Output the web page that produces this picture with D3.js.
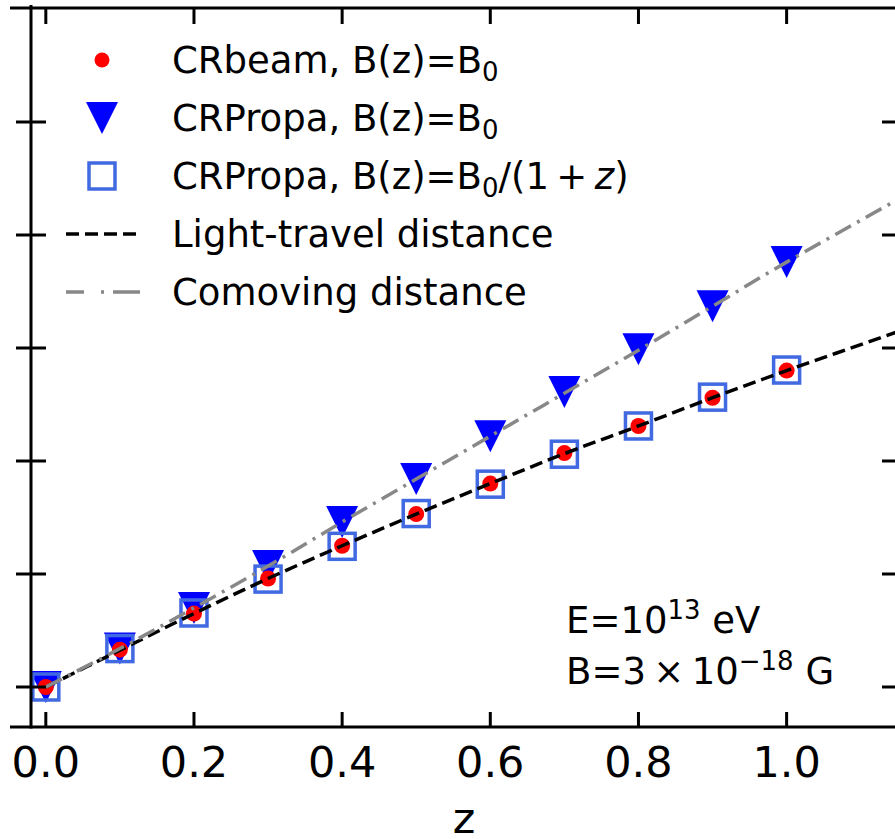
<!DOCTYPE html>
<html>
<head>
<meta charset="utf-8">
<script src="https://cdn.jsdelivr.net/npm/d3@7"></script>
<style>
  body { margin: 0; background: #fff; }
  text { font-family: "DejaVu Sans", sans-serif; fill: #000; }
</style>
</head>
<body>
<div id="chart"></div>
<script>
// values (y in tick units, tick spacing = 1)
var z_pts = [0.0, 0.1, 0.2, 0.3, 0.4, 0.5, 0.6, 0.7, 0.8, 0.9, 1.0]
var crbeam = [0.0, 0.33, 0.65, 0.96, 1.25, 1.53, 1.80, 2.07, 2.31, 2.56, 2.80]
var crpropa_b0 = [0.0, 0.34, 0.70, 1.07, 1.46, 1.84, 2.22, 2.61, 2.99, 3.37, 3.76]
var crpropa_b1z = [0.0, 0.34, 0.655, 0.955, 1.245, 1.535, 1.795, 2.06, 2.31, 2.565, 2.805]

var z_line = [0.0, 0.1, 0.2, 0.3, 0.4, 0.5, 0.6, 0.7, 0.8, 0.9, 1.0, 1.1, 1.2]
var light_travel = [0.0, 0.325, 0.65, 0.96, 1.25, 1.53, 1.80, 2.065, 2.31, 2.56, 2.80, 3.03, 3.26]
var comoving = [0.0, 0.34, 0.70, 1.07, 1.46, 1.84, 2.22, 2.60, 2.98, 3.37, 3.76, 4.13, 4.50]

var x_ticks = [0.0, 0.2, 0.4, 0.6, 0.8, 1.0]
var y_ticks = [0, 1, 2, 3, 4, 5]

var W = 895, H = 839
// plot box edges (not named top/left: those clash with window globals)
var px0 = 31, px1 = 897, py0 = 9, py1 = 727

var svg = d3.select("#chart")
  .append("svg")
  .attr("width", W)
  .attr("height", H)

var x = d3.scaleLinear()
    .domain([-0.02, 1.149])
    .range([px0, px1])
var y = d3.scaleLinear()
    .domain([-0.354, 6.0])
    .range([py1, py0])

svg.append("clipPath").attr("id", "plotclip")
  .append("rect")
  .attr("x", px0).attr("y", py0)
  .attr("width", px1 - px0).attr("height", py1 - py0)

var plot = svg.append("g").attr("clip-path", "url(#plotclip)")

function tri(cx, cy, s){
    return "M" + (cx - s) + "," + (cy - s) + "L" + (cx + s) + "," + (cy - s) + "L" + cx + "," + (cy + s) + "Z"
}

// triangles
plot.selectAll("path.tri")
    .data(z_pts)
    .enter()
    .append("path")
    .attr("class", "tri")
    .attr("d", function(d, i){ return tri(x(d), y(crpropa_b0[i]), 16) })
    .attr("fill", "#0000ff")

// squares
plot.selectAll("rect.sq")
    .data(z_pts)
    .enter()
    .append("rect")
    .attr("class", "sq")
    .attr("x", function(d){ return x(d) - 13 })
    .attr("y", function(d, i){ return y(crpropa_b1z[i]) - 13 })
    .attr("width", 26)
    .attr("height", 26)
    .attr("fill", "none")
    .attr("stroke", "#4169e1")
    .attr("stroke-width", 3.5)

// circles
plot.selectAll("circle.cr")
    .data(z_pts)
    .enter()
    .append("circle")
    .attr("class", "cr")
    .attr("cx", function(d){ return x(d) })
    .attr("cy", function(d, i){ return y(crbeam[i]) })
    .attr("r", 8)
    .attr("fill", "#ff0000")

var line = d3.line()
    .x(function(d){ return x(d[0]) })
    .y(function(d){ return y(d[1]) })
    .curve(d3.curveMonotoneX)

plot.append("path")
    .attr("d", line(z_line.map(function(d, i){ return [d, light_travel[i]] })))
    .attr("fill", "none")
    .attr("stroke", "#000")
    .attr("stroke-width", 3.5)
    .attr("stroke-dasharray", "13,6")

plot.append("path")
    .attr("d", line(z_line.map(function(d, i){ return [d, comoving[i]] })))
    .attr("fill", "none")
    .attr("stroke", "#888")
    .attr("stroke-width", 3.5)
    .attr("stroke-dasharray", "18,7,3,7")

// frame
var frame = svg.append("g").attr("stroke", "#000").attr("stroke-width", 3)
frame.append("line").attr("x1", 10).attr("x2", W).attr("y1", py0 - 1).attr("y2", py0 - 1)
frame.append("line").attr("x1", 10).attr("x2", W).attr("y1", py1).attr("y2", py1)
frame.append("line").attr("x1", px0).attr("x2", px0).attr("y1", 5).attr("y2", py1 + 1.5)
frame.append("line").attr("x1", px1).attr("x2", px1).attr("y1", 5).attr("y2", py1 + 1.5)

// x ticks (inward, top and bottom)
x_ticks.forEach(function(t){
    frame.append("line").attr("x1", x(t)).attr("x2", x(t)).attr("y1", py1).attr("y2", py1 - 15)
    frame.append("line").attr("x1", x(t)).attr("x2", x(t)).attr("y1", py0).attr("y2", py0 + 15)
})
// y ticks (left crosses the spine, right inward)
y_ticks.forEach(function(t){
    frame.append("line").attr("x1", px0 - 15).attr("x2", px0 + 15).attr("y1", y(t)).attr("y2", y(t))
    frame.append("line").attr("x1", px1 - 15).attr("x2", px1).attr("y1", y(t)).attr("y2", y(t))
})

svg.selectAll("text.xt")
    .data(x_ticks)
    .enter()
    .append("text")
    .attr("class", "xt")
    .attr("x", function(d){ return x(d) })
    .attr("y", 777)
    .attr("text-anchor", "middle")
    .style("font-size", "43px")
    .text(function(d){ return d3.format(".1f")(d) })

svg.append("text")
    .attr("x", 464)
    .attr("y", 833)
    .attr("text-anchor", "middle")
    .style("font-size", "43px")
    .text("z")

// legend
var lg = svg.append("g")
var lx = 102, ly0 = 60, ldy = 58
lg.append("circle").attr("cx", lx).attr("cy", ly0).attr("r", 7.5).attr("fill", "#ff0000")
lg.append("path").attr("d", tri(lx, ly0 + ldy, 16)).attr("fill", "#0000ff")
lg.append("rect").attr("x", lx - 13).attr("y", ly0 + 2 * ldy - 13).attr("width", 26).attr("height", 26)
    .attr("fill", "none").attr("stroke", "#4169e1").attr("stroke-width", 3.5)
lg.append("line").attr("x1", 66).attr("x2", 138).attr("y1", ly0 + 3 * ldy).attr("y2", ly0 + 3 * ldy)
    .attr("stroke", "#000").attr("stroke-width", 3.5).attr("stroke-dasharray", "13,6")
lg.append("line").attr("x1", 66).attr("x2", 140).attr("y1", ly0 + 4 * ldy).attr("y2", ly0 + 4 * ldy)
    .attr("stroke", "#888").attr("stroke-width", 3.5).attr("stroke-dasharray", "18,17,3,9,27")

var labels = [
    [["CRbeam, B(z)=B", 0], ["0", 1]],
    [["CRPropa, B(z)=B", 0], ["0", 1]],
    [["CRPropa, B(z)=B", 0], ["0", 1], ["/(1\u2009+\u2009", 2], ["z", 3], [")", 0]],
    [["Light-travel distance", 0]],
    [["Comoving distance", 0]]
]
labels.forEach(function(parts, i){
    var t = lg.append("text")
        .attr("x", 172)
        .attr("y", ly0 + i * ldy + 13)
        .style("font-size", "37px")
    var shift = 0
    parts.forEach(function(p){
        var s = t.append("tspan").text(p[0])
        if(p[1] == 1){
            s.style("font-size", "26px").attr("dy", 8)
            shift = 8
        } else {
            if(shift){ s.attr("dy", -shift); shift = 0 }
            if(p[1] == 3){ s.style("font-style", "italic") }
        }
    })
})

// annotation
var a1 = svg.append("text").attr("x", 566).attr("y", 633).style("font-size", "37px")
a1.append("tspan").text("E=10")
a1.append("tspan").text("13").style("font-size", "26px").attr("dy", -14)
a1.append("tspan").text(" eV").attr("dy", 14)
var a2 = svg.append("text").attr("x", 566).attr("y", 684).style("font-size", "37px")
a2.append("tspan").text("B=3\u2009\u00d7\u200910")
a2.append("tspan").text("\u221218").style("font-size", "26px").attr("dy", -14)
a2.append("tspan").text(" G").attr("dy", 14)
</script>
</body>
</html>
